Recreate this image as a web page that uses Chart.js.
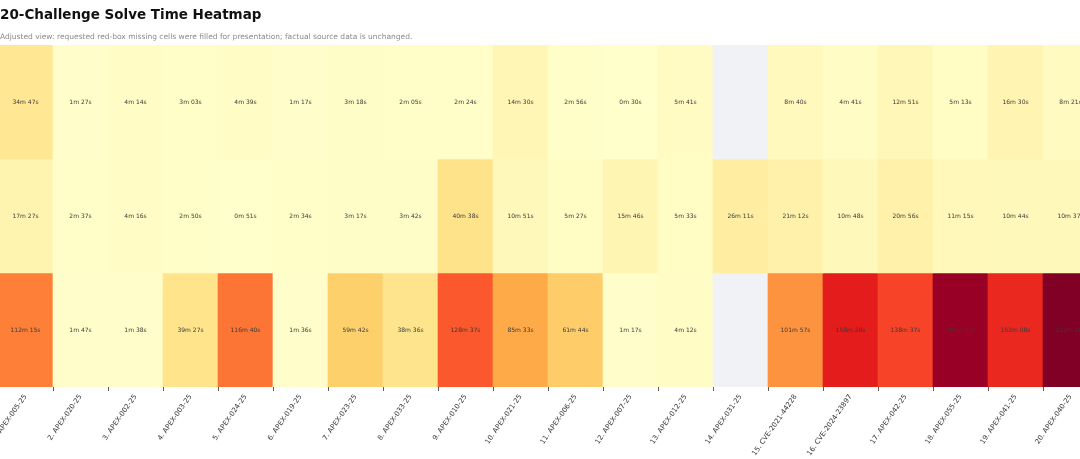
<!DOCTYPE html>
<html>
<head>
<meta charset="utf-8">
<script src="https://cdn.jsdelivr.net/npm/chart.js@4.4.1/dist/chart.umd.min.js"></script>
<style>
  html, body { margin: 0; padding: 0; background: #ffffff; overflow: hidden; width: 1080px; height: 459px; }
  #title { position: absolute; left: 0px; top: 7px; font: bold 13.5px "DejaVu Sans", sans-serif; line-height: 14px; color: #111; white-space: nowrap; z-index: 2; }
  #subtitle { position: absolute; left: 0px; top: 32.5px; font: 7.5px "DejaVu Sans", sans-serif; line-height: 7.5px; color: #8a8a8a; white-space: nowrap; z-index: 2; }
  #wrap { position: absolute; left: -2px; top: 0px; width: 1100px; height: 459px; }
</style>
</head>
<body>
<div id="title">20-Challenge Solve Time Heatmap</div>
<div id="subtitle">Adjusted view: requested red-box missing cells were filled for presentation; factual source data is unchanged.</div>
<div id="wrap"><canvas id="c"></canvas></div>
<script>
// ---- data ----
const challenges = [
  "1. APEX-005-25", "2. APEX-020-25", "3. APEX-002-25", "4. APEX-003-25", "5. APEX-024-25",
  "6. APEX-019-25", "7. APEX-023-25", "8. APEX-033-25", "9. APEX-010-25", "10. APEX-021-25",
  "11. APEX-006-25", "12. APEX-007-25", "13. APEX-012-25", "14. APEX-031-25", "15. CVE-2021-44228",
  "16. CVE-2024-23897", "17. APEX-042-25", "18. APEX-055-25", "19. APEX-041-25", "20. APEX-040-25"
];
const row1Times = ["34m 47s","1m 27s","4m 14s","3m 03s","4m 39s","1m 17s","3m 18s","2m 05s","2m 24s","14m 30s",
  "2m 56s","0m 30s","5m 41s",null,"8m 40s","4m 41s","12m 51s","5m 13s","16m 30s","8m 21s"];
const row2Times = ["17m 27s","2m 37s","4m 16s","2m 50s","0m 51s","2m 34s","3m 17s","3m 42s","40m 38s","10m 51s",
  "5m 27s","15m 46s","5m 33s","26m 11s","21m 12s","10m 48s","20m 56s","11m 15s","10m 44s","10m 37s"];
const row3Times = ["112m 15s","1m 47s","1m 38s","39m 27s","116m 40s","1m 36s","59m 42s","38m 36s","128m 37s","85m 33s",
  "61m 44s","1m 17s","4m 12s",null,"101m 57s","158m 28s","138m 37s","201m 50s","152m 08s","212m 20s"];
const rows = [row1Times, row2Times, row3Times];

// ---- helpers ----
function toSec(s) {
  if (s === null) return null;
  const m = s.match(/(\d+)m\s+(\d+)s/);
  return parseInt(m[1], 10) * 60 + parseInt(m[2], 10);
}
const secRows = rows.map(r => r.map(toSec));
const allVals = secRows.flat().filter(v => v !== null);
const vmin = Math.min(...allVals), vmax = Math.max(...allVals);

const ylorrd = ["#ffffcc","#ffeda0","#fed976","#feb24c","#fd8d3c","#fc4e2a","#e31a1c","#bd0026","#800026"];
function hex2rgb(h){ return [parseInt(h.slice(1,3),16),parseInt(h.slice(3,5),16),parseInt(h.slice(5,7),16)]; }
function cmap(v) {
  if (v === null) return "#f0f2f5";
  let t = (v - vmin) / (vmax - vmin);
  t = Math.max(0, Math.min(1, t));
  const p = t * (ylorrd.length - 1);
  const i = Math.min(Math.floor(p), ylorrd.length - 2);
  const f = p - i;
  const a = hex2rgb(ylorrd[i]), b = hex2rgb(ylorrd[i+1]);
  const c = a.map((x, k) => Math.round(x + (b[k] - x) * f));
  return `rgb(${c[0]},${c[1]},${c[2]})`;
}

const datasets = rows.map((r, ri) => ({
  label: "row" + (ri + 1),
  data: challenges.map(() => [ri, ri + 1]),
  backgroundColor: secRows[ri].map(cmap),
  borderWidth: 0,
  barPercentage: 1.0,
  categoryPercentage: 1.0,
  grouped: false
}));

const cellLabels = {
  id: "cellLabels",
  afterDatasetsDraw(chart) {
    const ctx = chart.ctx;
    ctx.save();
    ctx.font = '6px "DejaVu Sans", sans-serif';
    ctx.textAlign = "center";
    ctx.textBaseline = "middle";
    ctx.fillStyle = "#3a3a3a";
    chart.data.datasets.forEach((ds, di) => {
      const meta = chart.getDatasetMeta(di);
      meta.data.forEach((el, i) => {
        const txt = rows[di][i];
        if (txt === null) return;
        const cy = (el.y + el.base) / 2;
        ctx.fillText(txt, el.x, cy);
      });
    });
    ctx.restore();
  }
};

new Chart(document.getElementById("c"), {
  type: "bar",
  data: { labels: challenges, datasets },
  options: {
    responsive: true,
    maintainAspectRatio: false,
    animation: false,
    layout: { padding: { top: 45, left: 0, right: 0, bottom: 0 } },
    plugins: { legend: { display: false }, tooltip: { enabled: false } },
    scales: {
      x: {
        offset: true,
        grid: { display: true, drawOnChartArea: false, drawTicks: true, tickLength: 4, color: "#333333", lineWidth: 0.8 },
        border: { display: false },
        ticks: {
          autoSkip: false, minRotation: 55, maxRotation: 55, padding: 2,
          color: "#333333", font: { family: "DejaVu Sans", size: 7 }
        },
        afterFit(scale) { scale.height = 72; scale.paddingLeft = 0; scale.paddingRight = 0; }
      },
      y: {
        display: false, min: 0, max: 3, reverse: true
      }
    }
  },
  plugins: [cellLabels]
});
</script>
</body>
</html>
